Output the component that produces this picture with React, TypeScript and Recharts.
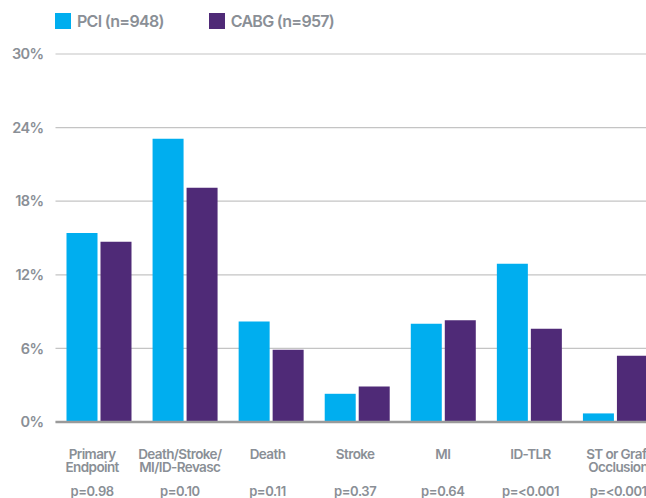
import React from 'react'
import { BarChart, Bar, XAxis, YAxis, CartesianGrid, ReferenceLine } from 'recharts'

const categories = ['Primary\nEndpoint', 'Death/Stroke/\nMI/ID-Revasc', 'Death', 'Stroke', 'MI', 'ID-TLR', 'ST or Graft\nOcclusion']
const pValues = ['p=0.98', 'p=0.10', 'p=0.11', 'p=0.37', 'p=0.64', 'p=<0.001', 'p=<0.001']
const pci = [15.4, 23.1, 8.2, 2.3, 8.0, 12.9, 0.7]
const cabg = [14.7, 19.1, 5.9, 2.9, 8.3, 7.6, 5.4]
const yTicks = [0, 6, 12, 18, 24, 30]

const series = [
  { key: 'pci', name: 'PCI (n=948)', color: '#00aeef' },
  { key: 'cabg', name: 'CABG (n=957)', color: '#4f2a77' },
]

const data = categories.map((c, i) => ({ cat: c, p: pValues[i], pci: pci[i], cabg: cabg[i] }))

const TEXT = '#8a8f96'
const FONT = 'Inter, "Liberation Sans", Arial, sans-serif'

const CategoryTick = ({ x, y, payload, index }: any) => {
  const lines = String(payload.value).split('\n')
  const dx = (index - 4) * 1.6
  return (
    <g transform={`translate(${x + dx},${y})`}>
      <text textAnchor="middle" fill={TEXT} fontSize={13.5} fontWeight={600} letterSpacing={-0.6} fontFamily={FONT}>
        {lines.map((l, i) => (
          <tspan key={i} x={0} y={35 + i * 13}>{l}</tspan>
        ))}
      </text>
      <text x={0} y={71.5} textAnchor="middle" fill={TEXT} fontSize={13} fontWeight={600} letterSpacing={-0.4} fontFamily={FONT}>
        {data[index]?.p}
      </text>
    </g>
  )
}

const LegendBox = () => (
  <div style={{ position: 'absolute', top: 12, left: 55, display: 'flex', fontFamily: FONT, fontSize: 16, fontWeight: 600, color: TEXT, letterSpacing: -0.7, lineHeight: '18px' }}>
    {series.map((s, i) => (
      <div key={s.key} style={{ display: 'flex', alignItems: 'center', marginRight: i === 0 ? 45 : 0 }}>
        <span style={{ width: 16, height: 16, background: s.color, display: 'inline-block', marginRight: 6 }} />
        <span>{s.name}</span>
      </div>
    ))}
  </div>
)

export default function App() {
  return (
    <div style={{ position: 'absolute', left: 0, top: 0, width: 646, height: 498, overflow: 'hidden', background: '#fff' }}>
      <BarChart width={680} height={498} data={data} margin={{ top: 54, right: 22, left: 0, bottom: 46 }} barSize={31} barGap={3}>
        <CartesianGrid vertical={false} stroke="#c4c4c4" strokeWidth={1.2} />
        <YAxis
          type="number"
          domain={[0, 30]}
          ticks={yTicks}
          width={55.5}
          tickFormatter={v => `${v}%`}
          axisLine={false}
          tickLine={false}
          tickSize={0}
          tickMargin={12}
          tick={{ fill: TEXT, fontSize: 14.5, fontWeight: 600, fontFamily: FONT, letterSpacing: -0.6 }}
        />
        <XAxis dataKey="cat" height={30} axisLine={false} tickLine={false} tickSize={0} tick={<CategoryTick />} interval={0} />
        {series.map(s => (
          <Bar key={s.key} dataKey={s.key} name={s.name} fill={s.color} isAnimationActive={false} />
        ))}
        <ReferenceLine y={0} stroke="#9a9a9a" strokeWidth={2.5} />
      </BarChart>
      <LegendBox />
    </div>
  )
}
